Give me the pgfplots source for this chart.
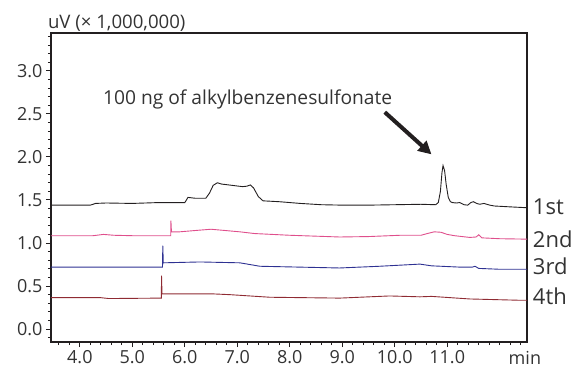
\documentclass[border=0pt]{standalone}
\usepackage{pgfplots}
\pgfplotsset{compat=1.18}
\usepackage{fontspec}
\setmainfont{Open Sans}
\usetikzlibrary{arrows.meta}
\definecolor{c1}{HTML}{231F20}
\definecolor{c2}{HTML}{DF4F8C}
\definecolor{c3}{HTML}{2E3192}
\definecolor{c4}{HTML}{8F2B33}
\definecolor{txt}{HTML}{333333}
\begin{document}
\begin{tikzpicture}
\begin{axis}[
  name=ax, scale only axis, width=476pt, height=309pt,
  xmin=3.45, xmax=12.52, ymin=-0.15, ymax=3.44,
  clip=false,
  axis line style={line width=1.5pt, color=c1},
  tick pos=left, tick align=outside,
  major tick length=5pt, minor tick length=3pt,
  every tick/.style={line width=1pt, color=c1},
  xtick={4,5,...,11}, ytick={0,0.5,...,3.0},
  minor xtick={3.6,3.8,...,12.45},
  minor ytick={-0.1,0,...,3.42},
  /pgf/number format/assume math mode=true,
  xticklabel style={/pgf/number format/.cd, fixed, fixed zerofill, precision=1},
  yticklabel style={/pgf/number format/.cd, fixed, fixed zerofill, precision=1},
  tick label style={font=\fontsize{18}{21}\selectfont, text=txt},
  every axis plot/.append style={line width=0.9pt},
]
% 1st
\addplot[c1] coordinates {
(3.45,1.44) (4.20,1.44) (4.30,1.46) (4.50,1.465) (5.00,1.46) (5.50,1.47) (6.00,1.47)
(6.03,1.50) (6.06,1.53) (6.20,1.52) (6.40,1.52) (6.47,1.58) (6.54,1.67) (6.62,1.70)
(6.70,1.685) (6.90,1.67) (7.10,1.655) (7.18,1.66) (7.25,1.675) (7.31,1.64) (7.40,1.54)
(7.49,1.49) (7.80,1.48) (8.20,1.46) (8.60,1.445) (9.00,1.44) (9.50,1.44) (10.00,1.445)
(10.50,1.45) (10.78,1.445) (10.83,1.47) (10.87,1.60) (10.90,1.82) (10.92,1.90)
(10.95,1.84) (10.98,1.68) (11.02,1.53) (11.06,1.48) (11.10,1.47) (11.17,1.465)
(11.24,1.47) (11.32,1.445) (11.39,1.44) (11.45,1.47) (11.50,1.48) (11.56,1.46)
(11.62,1.45) (11.70,1.46) (11.81,1.44) (11.90,1.43) (12.20,1.42) (12.52,1.41)};
% 2nd
\addplot[c2] coordinates {
(3.45,1.085) (4.25,1.085) (4.45,1.10) (4.65,1.09) (5.00,1.085) (5.50,1.085)
(5.732,1.085) (5.735,1.26) (5.745,1.13) (5.90,1.13) (6.29,1.15) (6.50,1.16)
(7.05,1.13) (7.33,1.11) (8.00,1.09) (8.95,1.07) (9.50,1.075) (10.10,1.09)
(10.50,1.09) (10.62,1.11) (10.75,1.13) (10.88,1.125) (11.00,1.10) (11.14,1.085)
(11.43,1.065) (11.55,1.07) (11.60,1.095) (11.66,1.06) (12.00,1.05) (12.52,1.045)};
% 3rd
\addplot[c3] coordinates {
(3.45,0.72) (5.575,0.72) (5.58,0.97) (5.59,0.77) (6.29,0.78) (7.05,0.77)
(7.43,0.73) (8.95,0.71) (9.71,0.73) (10.48,0.755) (10.70,0.735) (11.24,0.72)
(11.48,0.72) (11.53,0.73) (11.60,0.705) (12.00,0.695) (12.52,0.695)};
% 4th
\addplot[c4] coordinates {
(3.45,0.365) (4.40,0.365) (4.55,0.355) (5.553,0.36) (5.556,0.62) (5.565,0.41)
(6.50,0.41) (6.86,0.40) (7.62,0.37) (8.95,0.36) (9.90,0.385) (10.48,0.375)
(10.70,0.38) (11.43,0.35) (12.38,0.335) (12.52,0.335)};
% labels
\node[anchor=base west, font=\fontsize{22}{25}\selectfont, text=txt, inner sep=0pt] at (axis cs:12.63,1.337) {1st};
\node[anchor=base west, font=\fontsize{22}{25}\selectfont, text=txt, inner sep=0pt] at (axis cs:12.63,0.951) {2nd};
\node[anchor=base west, font=\fontsize{22}{25}\selectfont, text=txt, inner sep=0pt] at (axis cs:12.63,0.63) {3rd};
\node[anchor=base west, font=\fontsize{22}{25}\selectfont, text=txt, inner sep=0pt] at (axis cs:12.63,0.282) {4th};
\node[anchor=base west, font=\fontsize{19.2}{22}\selectfont, text=txt, inner sep=0pt] at (axis cs:4.44,2.61) {100 ng of alkylbenzenesulfonate};
\node[anchor=base west, font=\fontsize{18.6}{22}\selectfont, text=txt, inner sep=0pt] at (axis cs:3.39,3.49) {uV (× 1,000,000)};
\node[anchor=base, font=\fontsize{18}{21}\selectfont, text=txt, inner sep=0pt] at (axis cs:12.48,-0.414) {min};
\draw[line width=4pt, color=c1, -{Triangle[length=13pt,width=13pt]}] (axis cs:9.81,2.52) -- (axis cs:10.70,2.03);
\end{axis}
\pgfresetboundingbox
\path[use as bounding box] ([shift={(-51pt,-37pt)}]ax.south west) rectangle ([shift={(52pt,33pt)}]ax.north east);
\end{tikzpicture}
\end{document}
